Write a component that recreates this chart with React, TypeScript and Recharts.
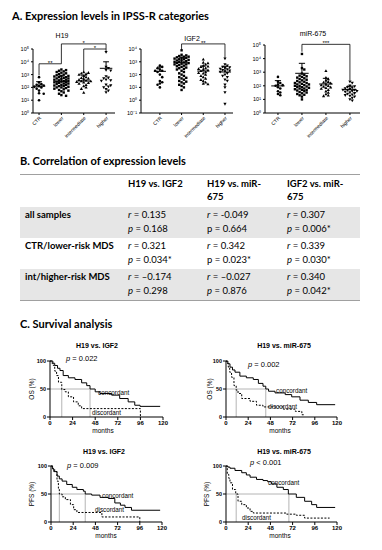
import React from 'react';
import { ScatterChart, Scatter, XAxis, YAxis, ReferenceLine, LineChart, Line } from 'recharts';

// ---------- A. expression levels (relative units) ----------
const categories = ['CTR', 'lower', 'intermediate', 'higher'];

const h19Ctr = [630, 250, 180, 160, 140, 125, 110, 100, 80, 56, 35, 32, 10];
const h19Lower = [2500, 2240, 2000, 1780, 1580, 1410, 1260, 1120, 1000, 890, 790, 790, 710, 630, 630, 560, 500, 500, 450, 400, 400, 355, 315, 315, 280, 280, 250, 250, 225, 200, 200, 180, 160, 160, 140, 125, 125, 112, 100, 100, 89, 79, 71, 63, 56, 50, 40, 32, 25, 22];
const h19Int = [1580, 1410, 1260, 1120, 1000, 790, 630, 560, 500, 450, 400, 355, 315, 315, 280, 250, 225, 200, 160, 125, 100, 79, 40];
const h19High = [56000, 4000, 3200, 2240, 2000, 710, 560, 500, 400, 355, 315, 160, 140, 112, 100, 71, 56, 40];
const h19Mean = [125, 300, 320, 3100];
const h19SdTop = [280, 800, 900, 10000];

const igf2Ctr = [500, 400, 315, 250, 200, 200, 160, 100, 63, 32, 25, 20, 16, 10];
const igf2Lower = [7900, 3550, 3160, 2820, 2510, 2510, 2240, 2000, 2000, 1780, 1580, 1580, 1410, 1260, 1260, 1120, 1000, 1000, 890, 790, 790, 710, 630, 630, 560, 500, 450, 400, 355, 315, 280, 250, 200, 160, 126, 100, 79, 63, 56, 50, 40, 32, 28, 25, 20, 16, 13, 10, 6.3];
const igf2Int = [1580, 890, 790, 630, 500, 450, 400, 315, 280, 250, 225, 200, 160, 140, 126, 100, 79, 63, 50, 40, 32, 25, 20, 18];
const igf2High = [1750, 630, 500, 400, 355, 315, 280, 250, 225, 200, 180, 160, 126, 100, 79, 63, 40, 32, 16, 10, 4, 0.5];
const igf2Mean = [180, 850, 190, 160];
const igf2SdTop = [390, 2300, 470, 440];

const mirCtr = [450, 200, 160, 126, 112, 100, 79, 63, 40, 32, 25, 20];
const mirLower = [22000, 2000, 1580, 790, 630, 560, 500, 450, 400, 355, 315, 280, 250, 225, 200, 180, 160, 160, 140, 126, 126, 112, 100, 100, 89, 79, 79, 71, 63, 63, 56, 50, 50, 45, 40, 35, 32, 28, 25, 22, 20, 16, 10];
const mirInt = [1260, 400, 315, 250, 200, 180, 160, 126, 112, 100, 89, 79, 71, 63, 50, 40, 32, 25, 20, 18];
const mirHigh = [200, 160, 100, 89, 79, 71, 63, 56, 50, 50, 45, 40, 40, 35, 32, 28, 25, 22, 20, 18, 16, 13, 10, 8];
const mirMean = [98, 830, 135, 52];
const mirSdTop = [240, 4500, 355, 95];

// significance brackets: groups, top level, leg ends, label
const h19Brackets = [
  { x1: 0, x2: 1, y: 7000, y1: 900, y2: 7000, label: '**' },
  { x1: 1, x2: 3, y: 250000, y1: 7000, y2: 100000, label: '*' },
  { x1: 2, x2: 3, y: 100000, y1: 1600, y2: 56000, label: '*' },
];
const igf2Brackets = [{ x1: 1, x2: 3, y: 25000, y1: 7900, y2: 2000, label: '**' }];
const mirBrackets = [{ x1: 1, x2: 3, y: 112000, y1: 32000, y2: 250, label: '***' }];

// ---------- B. correlation table ----------
const tableHeaders = [['H19 vs. IGF2'], ['H19 vs. miR-', '675'], ['IGF2 vs. miR-', '675']];
const tableRows = ['all samples', 'CTR/lower-risk MDS', 'int/higher-risk MDS'];
const tableR = [['0.135', '-0.049', '0.307'], ['0.321', '0.342', '0.339'], ['\u20130.174', '\u20130.027', '0.340']];
const tableP = [['0.168', '0.664', '0.006*'], ['0.034*', '0.023*', '0.030*'], ['0.298', '0.876', '0.042*']];
const tablePItalic = [[true, false, true], [true, false, true], [true, true, true]];

// ---------- C. survival (months, % surviving) ----------
const osIgfConcT = [0, 3, 5, 8, 10.6, 14, 19.5, 26.5, 33.6, 39, 42.5, 48, 53, 65.5, 74, 83, 90, 95.6, 117];
const osIgfConcS = [100, 96, 92, 87, 83, 74, 70, 67, 61, 56, 50, 45, 42, 39, 33, 27, 21, 19, 19];
const osIgfDiscT = [0, 2, 3.5, 5, 7, 9, 12.5, 16, 19.5, 25, 30, 33.6, 96];
const osIgfDiscS = [100, 96, 92, 82, 74, 62, 49, 45, 36, 27, 20, 15, 0];
const osIgfMedians = [42.5, 12.5];

const osMirConcT = [0, 2, 4.3, 7, 9.7, 15, 22, 29.5, 35, 40, 43, 46, 53, 64, 71, 80, 89, 98, 118];
const osMirConcS = [100, 95, 89, 84, 80, 73, 70, 67, 60, 55, 50, 46, 43, 40, 36, 30, 26, 22, 22];
const osMirDiscT = [0, 1, 2.5, 4, 6, 8.6, 11, 13, 17, 26, 33, 40, 62, 75, 82, 84];
const osMirDiscS = [100, 96, 89, 80, 71, 56, 48, 42, 33, 28, 21, 18, 14, 10, 4, 4];
const osMirMedians = [43, 11];

const pfsIgfConcT = [0, 1.5, 3, 6.5, 9, 12, 17, 23, 28, 35, 37, 44, 53, 62, 69, 75, 80, 87, 118];
const pfsIgfConcS = [100, 95, 90, 82, 77, 73, 67, 62, 58, 55, 50, 48, 44, 42, 34, 30, 26, 21, 21];
const pfsIgfDiscT = [0, 2, 4, 6.5, 8, 9, 12, 15.5, 21, 24.5, 28, 55, 96];
const pfsIgfDiscS = [100, 95, 90, 73, 60, 50, 45, 40, 31, 22, 17, 9, 0];
const pfsIgfMedians = [37, 9];

const pfsMirConcT = [0, 2, 4.3, 9.7, 17, 22, 26, 33, 40, 45, 49, 55, 62, 67.4, 76, 85, 92.6, 98, 118];
const pfsMirConcS = [100, 98, 96, 92, 88, 84, 80, 76, 74, 72, 68, 62, 58, 50, 44, 37, 31, 26, 26];
const pfsMirDiscT = [0, 1.4, 3, 4.3, 7, 10.5, 13, 17, 22, 26, 29.5, 65.6, 76, 85, 112];
const pfsMirDiscS = [100, 85, 78, 70, 58, 50, 37, 31, 25, 19, 16, 14, 12, 7, 7];
const pfsMirMedians = [68, 11];

const monthTicks = [0, 24, 48, 72, 96, 120];
const pctTicks = [0, 50, 100];

const ARIAL = '"Liberation Sans", Arial, sans-serif';
const SUP: Record<string, string> = { '-': '\u207B', '0': '\u2070', '1': '\u00B9', '2': '\u00B2', '3': '\u00B3', '4': '\u2074', '5': '\u2075' };
const powLabel = (v: number) =>
  '10' + String(Math.round(Math.log10(v))).split('').map((c) => SUP[c]).join('');

// simple beeswarm: spread points of similar value sideways (layout only)
function swarm(values: number[], pxDecade: number, pxUnit: number, r: number, maxPx: number) {
  const order = values.map((_, i) => i).sort((a, b) => values[b] - values[a]);
  const placed: { x: number; y: number }[] = [];
  const out = new Array(values.length).fill(0);
  const step = r * 1.8;
  const cands: number[] = [0];
  for (let k = 1; k * step <= maxPx; k++) cands.push(k * step, -k * step);
  order.forEach((i) => {
    const y = Math.log10(values[i]) * pxDecade;
    let best = 0;
    let bestD = -1;
    for (const c of cands) {
      const d = placed.reduce((m, p) => Math.min(m, Math.hypot(p.x - c, p.y - y)), 99);
      if (d >= r * 2) { best = c; bestD = 99; break; }
      if (d > bestD) { bestD = d; best = c; }
    }
    placed.push({ x: best, y });
    out[i] = best / pxUnit;
  });
  return out;
}

const marker = (kind: number) => (p: any) => {
  const { cx, cy } = p;
  if (cx == null || cy == null) return <g />;
  if (kind === 0) return <circle cx={cx} cy={cy} r={1.3} fill="#000" />;
  if (kind === 1) return <rect x={cx - 1.2} y={cy - 1.2} width={2.4} height={2.4} fill="#000" />;
  if (kind === 2) return <path d={`M${cx},${cy - 1.6}L${cx + 1.6},${cy + 1.2}L${cx - 1.6},${cy + 1.2}Z`} fill="#000" />;
  return <path d={`M${cx},${cy + 1.6}L${cx + 1.6},${cy - 1.2}L${cx - 1.6},${cy - 1.2}Z`} fill="#000" />;
};

function Txt({ x, y, size, children, anchor = 'start', bold = false, family = 'Lato, sans-serif', rotate = 0 }: any) {
  const tx = anchor === 'middle' ? '-50%' : anchor === 'end' ? '-100%' : '0';
  return (
    <div
      style={{
        position: 'absolute', left: x, top: y, fontSize: size, lineHeight: 1, whiteSpace: 'nowrap',
        fontWeight: bold ? 700 : 400, fontFamily: family, color: '#000',
        transform: `translate(${tx}, -50%)${rotate ? ` rotate(${rotate}deg)` : ''}`,
        transformOrigin: rotate ? '50% 50%' : undefined,
      }}
    >
      {children}
    </div>
  );
}

function ScatterPanel({ cfg }: any) {
  const { left, top, axisW, marginTop, plotH, pw, xDomain, yDomain, yTicks, groups, means, sdTop, brackets } = cfg;
  const decades = Math.log10(yDomain[1]) - Math.log10(yDomain[0]);
  const pxUnit = pw / (xDomain[1] - xDomain[0]);
  const width = axisW + pw + 4;
  const height = marginTop + plotH + 42;
  const series = groups.map((vals: number[], g: number) => {
    const offs = swarm(vals, plotH / decades, pxUnit, 1.3, 8);
    return vals.map((v, i) => ({ x: g + offs[i], y: v }));
  });
  return (
    <div style={{ position: 'absolute', left, top }}>
      <ScatterChart width={width} height={height} margin={{ top: marginTop, right: 4, bottom: 0, left: 0 }}>
        <XAxis
          type="number" dataKey="x" domain={xDomain} ticks={[0, 1, 2, 3]} interval={0} allowDataOverflow
          tickFormatter={(i: number) => categories[i]} angle={-45} textAnchor="end" height={42}
          tick={{ fontSize: 5, fill: '#000', stroke: 'none', fontFamily: ARIAL }} tickSize={2} tickMargin={1}
          axisLine={{ stroke: '#000' }} tickLine={{ stroke: '#000' }}
        />
        <YAxis
          type="number" dataKey="y" scale="log" domain={yDomain} ticks={yTicks} interval={0} allowDataOverflow
          tickFormatter={powLabel} width={axisW} tickSize={2} tickMargin={2}
          tick={{ fontSize: 5.5, fill: '#000', stroke: 'none', fontFamily: ARIAL }}
          axisLine={{ stroke: '#000' }} tickLine={{ stroke: '#000' }}
        />
        {series.map((pts: any[], g: number) => (
          <Scatter key={g} data={pts} shape={marker(g)} isAnimationActive={false} />
        ))}
        {means.map((m: number, g: number) => (
          <ReferenceLine key={`m${g}`} segment={[{ x: g - 0.28, y: m }, { x: g + 0.28, y: m }]} stroke="#000" strokeWidth={1} ifOverflow="visible" />
        ))}
        {sdTop.map((s: number, g: number) => (
          <ReferenceLine key={`s${g}`} segment={[{ x: g, y: means[g] }, { x: g, y: s }]} stroke="#000" strokeWidth={1} ifOverflow="visible" />
        ))}
        {sdTop.map((s: number, g: number) => (
          <ReferenceLine key={`c${g}`} segment={[{ x: g - 0.13, y: s }, { x: g + 0.13, y: s }]} stroke="#000" strokeWidth={1} ifOverflow="visible" />
        ))}
        {brackets.map((b: any, k: number) => (
          <ReferenceLine key={`b${k}`} segment={[{ x: b.x1, y: b.y }, { x: b.x2, y: b.y }]} stroke="#000" strokeWidth={0.8} ifOverflow="visible"
            label={{ value: b.label, position: 'top', offset: -1, fontSize: 6, fill: '#000', fontFamily: ARIAL }} />
        ))}
        {brackets.map((b: any, k: number) => (
          <ReferenceLine key={`l${k}`} segment={[{ x: b.x1, y: b.y }, { x: b.x1, y: b.y1 }]} stroke="#000" strokeWidth={0.8} ifOverflow="visible" />
        ))}
        {brackets.map((b: any, k: number) => (
          <ReferenceLine key={`r${k}`} segment={[{ x: b.x2, y: b.y }, { x: b.x2, y: b.y2 }]} stroke="#000" strokeWidth={0.8} ifOverflow="visible" />
        ))}
      </ScatterChart>
    </div>
  );
}

const toPts = (t: number[], s: number[]) => t.map((v, i) => ({ t: v, s: s[i] }));

function KMPanel({ cfg }: any) {
  const { axisX, plotRight, y100, y0, conc, disc, medians } = cfg;
  const axisW = 22;
  const pw = plotRight - axisX;
  const ph = y0 - y100;
  const gray = '#b4b4b4';
  return (
    <div style={{ position: 'absolute', left: axisX - axisW, top: y100 - 8 }}>
      <LineChart width={axisW + pw + 6} height={ph + 8 + 16} margin={{ top: 8, right: 6, bottom: 0, left: 0 }}>
        <XAxis
          type="number" dataKey="t" domain={[0, 120]} ticks={monthTicks} interval={0} allowDataOverflow height={16}
          tickSize={3} tickMargin={1} tick={{ fontSize: 6, fill: '#000', stroke: 'none', fontFamily: ARIAL, fontWeight: 700 }}
          axisLine={{ stroke: '#000' }} tickLine={{ stroke: '#000' }}
        />
        <YAxis
          type="number" dataKey="s" domain={[0, 100]} ticks={pctTicks} interval={0} width={axisW}
          tickSize={3} tickMargin={1} tick={{ fontSize: 5.5, fill: '#000', stroke: 'none', fontFamily: ARIAL, fontWeight: 700 }}
          axisLine={{ stroke: '#000' }} tickLine={{ stroke: '#000' }}
        />
        <ReferenceLine segment={[{ x: 0, y: 50 }, { x: medians[0], y: 50 }]} stroke={gray} strokeWidth={1} />
        {medians.map((m: number, k: number) => (
          <ReferenceLine key={k} segment={[{ x: m, y: 0 }, { x: m, y: 50 }]} stroke={gray} strokeWidth={1} />
        ))}
        <Line data={toPts(conc[0], conc[1])} dataKey="s" type="stepAfter" stroke="#000" strokeWidth={1} dot={false} isAnimationActive={false} />
        <Line data={toPts(disc[0], disc[1])} dataKey="s" type="stepAfter" stroke="#000" strokeWidth={1} strokeDasharray="2 1.5" dot={false} isAnimationActive={false} />
      </LineChart>
    </div>
  );
}

const scatterPanels = [
  { left: 3, top: 30, axisW: 30, marginTop: 19, plotH: 64, pw: 82, xDomain: [-0.27, 3.4], yDomain: [1, 1e5], yTicks: [1, 10, 100, 1e3, 1e4, 1e5],
    groups: [h19Ctr, h19Lower, h19Int, h19High], means: h19Mean, sdTop: h19SdTop, brackets: h19Brackets },
  { left: 111, top: 30, axisW: 30, marginTop: 19, plotH: 64, pw: 92, xDomain: [-0.87, 3.37], yDomain: [0.1, 1e4], yTicks: [0.1, 1, 10, 100, 1e3, 1e4],
    groups: [igf2Ctr, igf2Lower, igf2Int, igf2High], means: igf2Mean, sdTop: igf2SdTop, brackets: igf2Brackets },
  { left: 235, top: 30, axisW: 30, marginTop: 15, plotH: 68, pw: 95, xDomain: [-0.54, 3.42], yDomain: [1, 1e5], yTicks: [1, 10, 100, 1e3, 1e4, 1e5],
    groups: [mirCtr, mirLower, mirInt, mirHigh], means: mirMean, sdTop: mirSdTop, brackets: mirBrackets },
];

const kmPanels = [
  { axisX: 50, plotRight: 163, y100: 361, y0: 417, conc: [osIgfConcT, osIgfConcS], disc: [osIgfDiscT, osIgfDiscS], medians: osIgfMedians,
    title: 'H19 vs. IGF2', titleX: 97, titleY: 345, yLabel: 'OS (%)', yLabelX: 32, pTxt: '= 0.022', pX: 66, pY: 359, mX: 103, mY: 431,
    cX: 98, cY: 393, dX: 92, dY: 413 },
  { axisX: 226, plotRight: 337, y100: 361, y0: 417, conc: [osMirConcT, osMirConcS], disc: [osMirDiscT, osMirDiscS], medians: osMirMedians,
    title: 'H19 vs. miR-675', titleX: 284, titleY: 345, yLabel: 'OS (%)', yLabelX: 210, pTxt: '= 0.002', pX: 248, pY: 365, mX: 280, mY: 431,
    cX: 276, cY: 391, dX: 268, dY: 407 },
  { axisX: 51, plotRight: 162, y100: 466, y0: 522, conc: [pfsIgfConcT, pfsIgfConcS], disc: [pfsIgfDiscT, pfsIgfDiscS], medians: pfsIgfMedians,
    title: 'H19 vs. IGF2', titleX: 104, titleY: 451, yLabel: 'PFS (%)', yLabelX: 32, pTxt: '= 0.009', pX: 67, pY: 466, mX: 106, mY: 536,
    cX: 102, cY: 496, dX: 95, dY: 510 },
  { axisX: 226, plotRight: 337, y100: 466, y0: 522, conc: [pfsMirConcT, pfsMirConcS], disc: [pfsMirDiscT, pfsMirDiscS], medians: pfsMirMedians,
    title: 'H19 vs. miR-675', titleX: 284, titleY: 451, yLabel: 'PFS (%)', yLabelX: 207, pTxt: '< 0.001', pX: 250, pY: 463, mX: 280, mY: 536,
    cX: 268, cY: 483, dX: 242, dY: 518 },
];

const colX = [128, 207, 287];
const rowTop = [207, 238, 269];

export default function App() {
  return (
    <div style={{ position: 'absolute', left: 0, top: 0, width: 382, height: 550, background: '#fff', overflow: 'hidden' }}>
      <Txt x={12} y={15} size={11} bold>A. Expression levels in IPSS-R categories</Txt>
      <Txt x={62} y={35} size={7} anchor="middle" family={ARIAL}>H19</Txt>
      <Txt x={192} y={38} size={7} anchor="middle" family={ARIAL}>IGF2</Txt>
      <Txt x={313} y={33} size={7} anchor="middle" family={ARIAL}>miR-675</Txt>
      {scatterPanels.map((p, i) => <ScatterPanel key={i} cfg={p} />)}

      <Txt x={20} y={160} size={11} bold>B. Correlation of expression levels</Txt>
      <div style={{ position: 'absolute', left: 20, top: 174, width: 340, height: 1, background: '#a0a0a0' }} />
      {[0, 2].map((r) => (
        <div key={r} style={{ position: 'absolute', left: 20, top: rowTop[r], width: 340, height: 31, background: '#e6e6e6' }} />
      ))}
      <div style={{ position: 'absolute', left: 20, top: 300, width: 340, height: 1, background: '#a0a0a0' }} />
      {tableHeaders.map((h, c) =>
        h.map((line, k) => <Txt key={`${c}-${k}`} x={colX[c]} y={184 + k * 13} size={9.5} bold>{line}</Txt>)
      )}
      {tableRows.map((label, r) => (
        <React.Fragment key={r}>
          <Txt x={25} y={rowTop[r] + 8} size={9.5} bold>{label}</Txt>
          {colX.map((x, c) => (
            <React.Fragment key={c}>
              <Txt x={x} y={rowTop[r] + 8} size={9.5}><i>r</i> = {tableR[r][c]}</Txt>
              <Txt x={x} y={rowTop[r] + 22} size={9.5}>{tablePItalic[r][c] ? <i>p</i> : 'p'} = {tableP[r][c]}</Txt>
            </React.Fragment>
          ))}
        </React.Fragment>
      ))}

      <Txt x={20} y={323} size={11} bold>C. Survival analysis</Txt>
      {kmPanels.map((p, i) => (
        <React.Fragment key={i}>
          <KMPanel cfg={p} />
          <Txt x={p.titleX} y={p.titleY} size={7} bold anchor="middle" family={ARIAL}>{p.title}</Txt>
          <Txt x={p.yLabelX} y={(p.y100 + p.y0) / 2} size={6.5} anchor="middle" family={ARIAL} rotate={-90}>{p.yLabel}</Txt>
          <Txt x={p.pX} y={p.pY} size={7.5} family={ARIAL}><i>p</i> {p.pTxt}</Txt>
          <Txt x={p.mX} y={p.mY} size={6.5} anchor="middle" family={ARIAL}>months</Txt>
          <Txt x={p.cX} y={p.cY} size={6.3} family={ARIAL}>concordant</Txt>
          <Txt x={p.dX} y={p.dY} size={6.3} family={ARIAL}>discordant</Txt>
        </React.Fragment>
      ))}
    </div>
  );
}
